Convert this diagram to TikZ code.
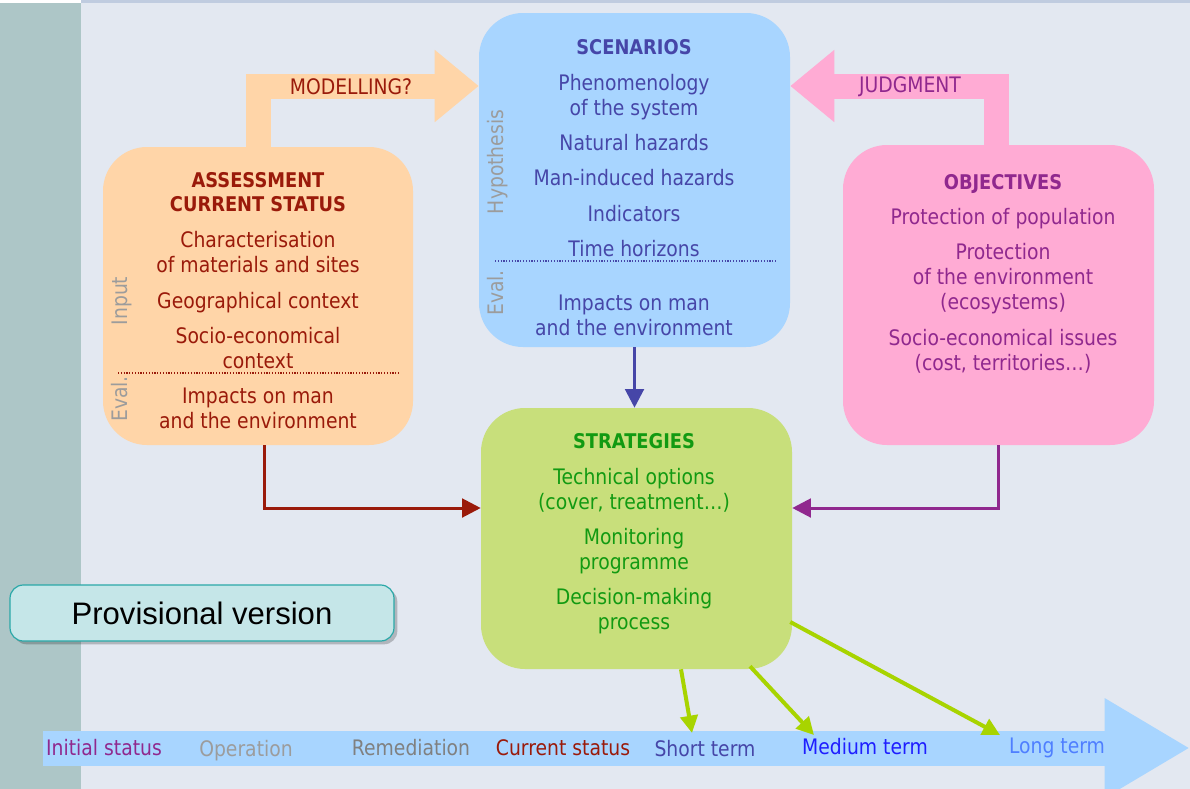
\documentclass[tikz,border=0pt]{standalone}
\usepackage{fontspec}
\setmainfont{DejaVu Sans}[FakeStretch=0.88]
\newfontfamily\arialfont{Liberation Sans}
\usetikzlibrary{arrows.meta,calc,shadows}
\definecolor{bg}{HTML}{E3E8F1}
\definecolor{strip}{HTML}{ADC6C7}
\definecolor{topbar}{HTML}{C0CCE0}
\definecolor{orangebox}{HTML}{FFD5A8}
\definecolor{bluebox}{HTML}{A8D5FF}
\definecolor{pinkbox}{HTML}{FFABD4}
\definecolor{greenbox}{HTML}{C8DF7B}
\definecolor{provfill}{HTML}{C5E6E8}
\definecolor{provline}{HTML}{2AA8A8}
\definecolor{tred}{HTML}{9A1A0A}
\definecolor{tblue}{HTML}{4646A8}
\definecolor{tpurple}{HTML}{90288E}
\definecolor{tgreen}{HTML}{129A12}
\definecolor{lime}{HTML}{A8D400}
\definecolor{lgray}{HTML}{9C9C9C}
\definecolor{mgray}{HTML}{808080}
\definecolor{mblue}{HTML}{1E1EFF}
\definecolor{lblue}{HTML}{4F7FFF}
\tikzset{
  box/.style={rounded corners=33pt, inner sep=0pt, draw=none},
  ln/.style={inner sep=0pt, text height=12pt, text depth=3pt, anchor=center, font=\fontsize{16}{19}\selectfont},
  ttl/.style={ln, font=\fontsize{15.2}{18}\selectfont\bfseries},
  side/.style={ln, rotate=90, text=lgray},
  fat/.style={line width=18.75pt, line join=miter, -{Triangle[length=33pt,width=52pt]}},
  conn/.style={line width=2.25pt, -{Triangle[length=14pt,width=14pt]}},
  garrow/.style={line width=3pt, draw=lime, -{Triangle[length=13pt,width=13pt]}},
  sep/.style={line width=1.2pt, dash pattern=on 0.9pt off 1.2pt}
}
\begin{document}
\begin{tikzpicture}[x=0.75pt,y=-0.75pt]
\useasboundingbox (0,0) rectangle (1190,789);
\fill[bg] (0,0) rectangle (1190,789);
\fill[white] (0,0) rectangle (81,3);
\fill[topbar] (81,0) rectangle (1190,3);
\fill[strip] (0,3) rectangle (81,789);

% boxes
\node[box, fill=orangebox, minimum width=232.5pt, minimum height=223.5pt] (A) at (258,296) {};
\node[box, fill=bluebox, minimum width=233.25pt, minimum height=250.5pt] (S) at (634.5,180) {};
\node[box, fill=pinkbox, minimum width=233.25pt, minimum height=225pt] (O) at (998.5,295) {};
\node[box, fill=greenbox, minimum width=233.25pt, minimum height=195.75pt] (G) at (636.5,538.5) {};

% fat arrows
\coordinate (jy) at (0,86);
\coordinate (mtip) at (S.west |- jy);
\coordinate (jtip) at (S.east |- jy);
\draw[fat, draw=orangebox] (A.north) |- (mtip);
\draw[fat, draw=pinkbox] ($(O.north)+(-2.5,0)$) |- (jtip);
\node[ln, text=tred] (modl) at (351,88) {MODELLING?};
\node[ln, text=tpurple] (judg) at (910,86) {JUDGMENT};

% assessment text
\node[ttl, text=tred] (a1) at (258,181) {ASSESSMENT};
\node[ttl, text=tred] (a2) at (258,205) {CURRENT STATUS};
\node[ln, text=tred] (a3) at (258,241) {Characterisation};
\node[ln, text=tred] (a4) at (258,266) {of materials and sites};
\node[ln, text=tred] (a5) at (258,302) {Geographical context};
\node[ln, text=tred] (a6) at (258,337) {Socio-economical};
\node[ln, text=tred] (a7) at (258,362) {context};
\node[ln, text=tred] (a8) at (258,397) {Impacts on man};
\node[ln, text=tred] (a9) at (258,422) {and the environment};
\draw[sep, tred] (118,373) -- (400,373);
\node[side] (ain) at (121,301) {Input};
\node[side] (aev) at (121,399) {Eval.};

% scenarios text
\node[ttl, text=tblue] (s1) at (634,48) {SCENARIOS};
\node[ln, text=tblue] (s2) at (634,84) {Phenomenology};
\node[ln, text=tblue] (s3) at (634,109) {of the system};
\node[ln, text=tblue] (s4) at (634,144) {Natural hazards};
\node[ln, text=tblue] (s5) at (634,179) {Man-induced hazards};
\node[ln, text=tblue] (s6) at (634,215) {Indicators};
\node[ln, text=tblue] (s7) at (634,250) {Time horizons};
\draw[sep, tblue] (495,261) -- (777,261);
\node[ln, text=tblue] (s8) at (634,304) {Impacts on man};
\node[ln, text=tblue] (s9) at (634,329) {and the environment};
\node[side] (shy) at (497,162) {Hypothesis};
\node[side] (sev) at (497,293) {Eval.};

% objectives text
\node[ttl, text=tpurple] (o1) at (1003,183) {OBJECTIVES};
\node[ln, text=tpurple] (o2) at (1003,218) {Protection of population};
\node[ln, text=tpurple] (o3) at (1003,253) {Protection};
\node[ln, text=tpurple] (o4) at (1003,278) {of the environment};
\node[ln, text=tpurple] (o5) at (1003,303) {(ecosystems)};
\node[ln, text=tpurple] (o6) at (1003,339) {Socio-economical issues};
\node[ln, text=tpurple] (o7) at (1003,364) {(cost, territories…)};

% strategies text
\node[ttl, text=tgreen] (g1) at (634,442) {STRATEGIES};
\node[ln, text=tgreen] (g2) at (634,478) {Technical options};
\node[ln, text=tgreen] (g3) at (634,503) {(cover, treatment…)};
\node[ln, text=tgreen] (g4) at (634,538) {Monitoring};
\node[ln, text=tgreen] (g5) at (634,563) {programme};
\node[ln, text=tgreen] (g6) at (634,598) {Decision-making};
\node[ln, text=tgreen] (g7) at (634,623) {process};

% connectors
\draw[conn, draw=tblue] (S.south) -- (S.south |- G.north);
\draw[conn, draw=tred] ($(A.south)+(6,0)$) |- ($(G.west)+(0,-30.5)$);
\draw[conn, draw=tpurple] (O.south) |- ($(G.east)+(0,-30.5)$);

% timeline
\coordinate (t0) at (43,748);
\coordinate (t1) at (1190,748);
\draw[line width=26.25pt, draw=bluebox, -{Triangle[length=64pt,width=70pt]}] (t0) -- (t1);
\node[ln, text=tpurple] (l1) at (104,749) {Initial status};
\node[ln, text=lgray] (l2) at (246,750) {Operation};
\node[ln, text=mgray] (l3) at (411,749) {Remediation};
\node[ln, text=tred] (l4) at (563,749) {Current status};
\node[ln, text=tblue] (l5) at (705,750) {Short term};
\node[ln, text=mblue] (l6) at (865,748) {Medium term};
\node[ln, text=lblue] (l7) at (1057,747) {Long term};

% green arrows
\coordinate (st) at (692,733);
\coordinate (mt) at (814,735);
\coordinate (lt) at (1000,735);
\draw[garrow] ($(G.south)+(44.5,0)$) -- (st);
\draw[garrow] ($(G.south)+(113.5,-3)$) -- (mt);
\draw[garrow] ($(G.east)+(-2,83.5)$) -- (lt);

% provisional
\node[draw=provline, line width=0.9pt, fill=provfill, rounded corners=10pt, minimum width=288pt, minimum height=42pt,
  drop shadow={shadow xshift=2.5pt, shadow yshift=-2.5pt, fill=black, opacity=0.22}] (P) at (202,613)
  {\arialfont\fontsize{23.3}{27}\selectfont Provisional version};
\end{tikzpicture}
\end{document}
